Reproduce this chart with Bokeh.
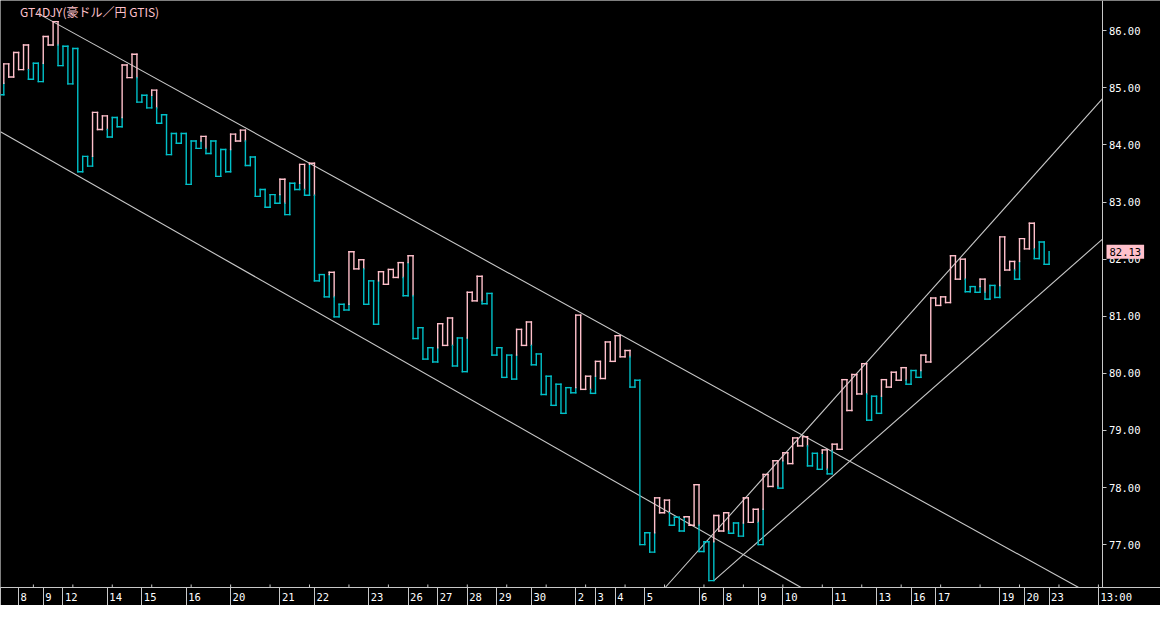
from bokeh.plotting import figure
from bokeh.models import Range1d, FixedTicker, PrintfTickFormatter, ColumnDataSource, Label
from bokeh.embed import file_html
from bokeh.resources import INLINE

# ---------------- data ----------------
title_text = "GT4DJY(豪ドル／円 GTIS)"
start_price = 84.88          # level the first kagi line starts from
prior_shoulder = 85.08       # last shoulder before the visible part
kagi_prices = [
    85.42, 85.19, 85.62, 85.32, 85.75, 85.15, 85.43, 85.11, 85.90, 85.75,
    86.16, 85.39, 85.73, 85.07, 85.69, 83.53, 83.80, 83.63, 84.57, 84.27,
    84.51, 84.14, 84.48, 84.32, 85.40, 85.18, 85.59, 84.75, 84.87, 84.65,
    84.96, 84.38, 84.53, 83.83, 84.20, 84.03, 84.20, 83.31, 84.07, 83.94,
    84.15, 83.85, 84.07, 83.45, 83.92, 83.53, 84.19, 84.07, 84.26, 83.64,
    83.79, 83.10, 83.22, 82.91, 83.13, 82.98, 83.40, 82.78, 83.33, 83.22,
    83.66, 83.12, 83.68, 81.62, 81.73, 81.34, 81.77, 80.99, 81.21, 81.11,
    82.13, 81.83, 81.99, 81.21, 81.62, 80.86, 81.78, 81.56, 81.82, 81.68,
    81.94, 81.36, 82.06, 80.61, 80.80, 80.25, 80.45, 80.20, 80.87, 80.49,
    80.97, 80.13, 80.62, 80.03, 81.42, 81.27, 81.70, 81.22, 81.40, 80.32,
    80.45, 79.93, 80.32, 79.90, 80.77, 80.49, 80.90, 80.15, 80.34, 79.63,
    79.95, 79.44, 79.81, 79.30, 79.75, 79.66, 81.02, 79.72, 79.95, 79.65,
    80.21, 79.91, 80.55, 80.21, 80.66, 80.29, 80.40, 79.76, 79.88, 77.00,
    77.21, 76.87, 77.82, 77.56, 77.78, 77.34, 77.48, 77.24, 77.49, 77.34,
    78.05, 76.88, 77.05, 76.37, 77.51, 77.24, 77.56, 77.20, 77.38, 77.15,
    77.82, 77.39, 77.62, 77.00, 78.23, 78.02, 78.47, 77.99, 78.61, 78.42,
    78.87, 78.73, 78.89, 78.38, 78.60, 78.32, 78.66, 78.24, 78.76, 78.67,
    79.89, 79.35, 79.98, 79.64, 80.17, 79.18, 79.60, 79.30, 79.89, 79.76,
    80.02, 79.88, 80.10, 79.81, 80.05, 79.93, 80.32, 80.20, 81.32, 81.19,
    81.34, 81.24, 82.06, 81.65, 82.00, 81.43, 81.52, 81.42, 81.65, 81.30,
    81.54, 81.33, 82.39, 81.81, 81.96, 81.65, 82.36, 82.18, 82.63, 82.01,
    82.30, 81.91, 82.13,
]

date_tick_index = [3, 8, 12, 21, 28, 37, 46, 56, 63, 74, 82, 88, 94, 100, 107,
                   116, 120, 124, 130, 141, 146, 153, 158, 168, 177, 184, 189,
                   202, 207, 212, 222]
date_tick_labels = ["8", "9", "12", "14", "15", "16", "20", "21", "22", "23",
                    "26", "27", "28", "29", "30", "2", "3", "4", "5", "6", "8",
                    "9", "10", "11", "13", "16", "17", "19", "20", "23", "13:00"]
minor_tick_index = [6, 14, 22, 30, 38, 46, 54, 62, 70, 78, 86, 94, 102, 110,
                    118, 126, 134, 142, 150, 158, 166, 174, 182, 190, 198, 206,
                    214, 222]
price_ticks = [77, 78, 79, 80, 81, 82, 83, 84, 85, 86]

# trend lines: (index, price) start and end
trend_x0 = [7.0, -0.67, 134.15, 144.0]
trend_p0 = [86.30, 84.23, 76.25, 76.37]
trend_x1 = [218.0, 161.7, 222.83, 222.83]
trend_p1 = [76.25, 76.25, 84.81, 82.35]

YANG = "#FFC0CB"
YIN = "#00C0C8"
GRID = "#C8C8C8"

W, H, BOTTOM = 1160, 605, 18
X_LO, X_AXIS = -0.67, 222.83
PX_PER_K = 1102 / (X_AXIS - X_LO)
X_HI = X_LO + W / PX_PER_K
Y_LO, Y_HI = 76.25, 86.53
PX_PER_PRICE = (H - BOTTOM) / (Y_HI - Y_LO)
FONT_PX = 10.5
CHAR_W = 0.602 * FONT_PX

# ---------------- build kagi segments ----------------
x0s, y0s, x1s, y1s, cols = [], [], [], [], []


def seg(a, b, c, d, col):
    x0s.append(a); y0s.append(b); x1s.append(c); y1s.append(d); cols.append(col)


state = YIN
last_high = prior_shoulder
last_low = start_price
prev = start_price
seg(X_LO, prev, 0, prev, state)
n = len(kagi_prices)
for k, p in enumerate(kagi_prices):
    if p > prev:
        if state == YIN and p > last_high:
            seg(k, prev, k, last_high, YIN)
            seg(k, last_high, k, p, YANG)
            state = YANG
        else:
            seg(k, prev, k, p, state)
        last_high = p
    else:
        if state == YANG and p < last_low:
            seg(k, prev, k, last_low, YANG)
            seg(k, last_low, k, p, YIN)
            state = YIN
        else:
            seg(k, prev, k, p, state)
        last_low = p
    if k < n - 1:
        seg(k, p, k + 1, p, state)
    prev = p

src = ColumnDataSource(dict(x0=x0s, y0=y0s, x1=x1s, y1=y1s, c=cols))
tsrc = ColumnDataSource(dict(x0=trend_x0, y0=trend_p0, x1=trend_x1, y1=trend_p1))
tick_h = 3 / PX_PER_PRICE
msrc = ColumnDataSource(dict(x=minor_tick_index,
                             y0=[Y_LO] * len(minor_tick_index),
                             y1=[Y_LO + tick_h] * len(minor_tick_index)))

# ---------------- figure ----------------
p = figure(width=W, height=H, output_backend="svg", toolbar_location=None,
           x_range=Range1d(X_LO, X_HI), y_range=Range1d(Y_LO, Y_HI),
           y_axis_location="left", background_fill_color="black",
           border_fill_color="black", outline_line_color=None,
           min_border_left=0, min_border_top=0, min_border_right=0,
           min_border_bottom=BOTTOM)
p.grid.visible = False

p.segment("x0", "y0", "x1", "y1", source=tsrc, line_color=GRID, line_width=1.1)
p.segment("x0", "y0", "x1", "y1", source=src, line_color="c", line_width=1.4,
          line_cap="square")
p.segment("x", "y0", "x", "y1", source=msrc, line_color=GRID, line_width=1)

# price axis: drawn at the right edge of the chart, labels to its right
ax = p.yaxis[0]
ax.fixed_location = X_AXIS
ax.ticker = FixedTicker(ticks=price_ticks)
ax.formatter = PrintfTickFormatter(format="%.2f")
ax.axis_line_color = GRID
ax.major_tick_line_color = GRID
ax.major_tick_in = 4
ax.major_tick_out = 0
ax.minor_tick_line_color = None
ax.major_label_standoff = -int(round(6 + 5 * CHAR_W))
ax.major_label_text_color = "white"
ax.major_label_text_font = "DejaVu Sans Mono"
ax.major_label_text_font_size = f"{FONT_PX}px"

# date axis: labels sit just right of the long date ticks
label_pos = [round(t + (2 + len(s) * CHAR_W / 2) / PX_PER_K, 3)
             for t, s in zip(date_tick_index, date_tick_labels)]
bx = p.xaxis[0]
bx.ticker = FixedTicker(ticks=label_pos, minor_ticks=date_tick_index)
bx.major_label_overrides = {t: s for t, s in zip(label_pos, date_tick_labels)}
bx.axis_line_color = GRID
bx.major_tick_line_color = None
bx.major_tick_in = 0
bx.major_tick_out = 0
bx.minor_tick_line_color = GRID
bx.minor_tick_in = 0
bx.minor_tick_out = BOTTOM
bx.major_label_standoff = 3 - BOTTOM
bx.major_label_text_color = "white"
bx.major_label_text_font = "DejaVu Sans Mono"
bx.major_label_text_font_size = f"{FONT_PX}px"

p.add_layout(Label(x=3.3, y=86.34, text=title_text, text_color=YANG,
                   text_font="Noto Sans CJK JP", text_font_size="12px",
                   text_baseline="middle"))
p.add_layout(Label(x=X_AXIS, y=kagi_prices[-1], x_offset=4,
                   text=f"{kagi_prices[-1]:.2f}", text_color="black",
                   text_font="DejaVu Sans Mono", text_font_size=f"{FONT_PX}px",
                   text_baseline="middle", background_fill_color=YANG,
                   padding=3))

open("out.html", "w").write(file_html(p, INLINE))
